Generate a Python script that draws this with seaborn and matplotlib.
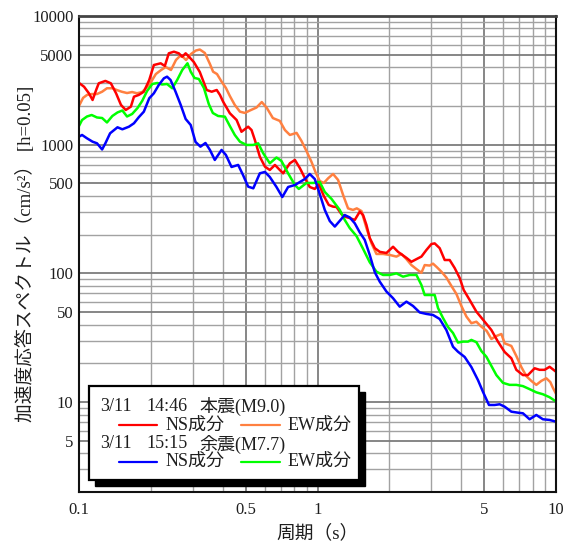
import matplotlib
matplotlib.use("Agg")
import matplotlib.pyplot as plt
from matplotlib.ticker import FixedLocator, FixedFormatter, NullFormatter
from matplotlib.patches import Rectangle
from matplotlib.lines import Line2D
import pandas as pd
import seaborn as sns

# --- acceleration response spectra, h = 0.05 ---------------------------------
# 3/11 14:46 main shock (M9.0), NS component
main_ns_period = [0.100, 0.105, 0.110, 0.114, 0.118, 0.121, 0.129, 0.136, 0.143, 0.150,
                  0.157, 0.165, 0.170, 0.178, 0.187, 0.197, 0.206, 0.220, 0.229, 0.238,
                  0.250, 0.262, 0.271, 0.280, 0.289, 0.303, 0.321, 0.343, 0.360, 0.378,
                  0.390, 0.402, 0.429, 0.458, 0.480, 0.512, 0.529, 0.546, 0.573, 0.602,
                  0.631, 0.663, 0.695, 0.718, 0.766, 0.804, 0.843, 0.885, 0.928, 0.974,
                  1.013, 1.063, 1.115, 1.162, 1.201, 1.260, 1.301, 1.365, 1.433, 1.504,
                  1.553, 1.604, 1.656, 1.739, 1.824, 1.945, 2.074, 2.176, 2.360, 2.476,
                  2.599, 2.727, 2.862, 3.003, 3.100, 3.253, 3.414, 3.583, 3.760, 3.946,
                  4.102, 4.345, 4.637, 5.022, 5.358, 5.708, 6.091, 6.497, 6.818, 7.266,
                  7.625, 8.136, 8.537, 8.960, 9.402, 10.0]
main_ns_sa = [3020, 2820, 2510, 2225, 2660, 3000, 3130, 3000, 2510, 2035,
              1860, 1975, 2360, 2435, 2580, 3180, 4160, 4290, 4090, 5130,
              5280, 5130, 4830, 5130, 4830, 4390, 3670, 2660, 2580, 2660,
              2435, 2160, 1755, 1555, 1260, 1380, 1300, 1090, 807, 675,
              636, 696, 636, 599, 717, 761, 659, 551, 469, 453,
              495, 399, 340, 330, 328, 289, 276, 269, 260, 302,
              284, 238, 188, 157, 147, 144, 161, 147, 132, 123,
              129, 135, 152, 169, 171, 157, 127, 127, 110, 92.1,
              74.3, 62.1, 50.4, 42.1, 36.3, 29.5, 24.5, 21.9, 17.8, 16.2,
              16.2, 18.3, 17.8, 17.8, 18.8, 17.2]

# 3/11 14:46 main shock (M9.0), EW component
main_ew_period = [0.100, 0.104, 0.108, 0.113, 0.119, 0.125, 0.131, 0.138, 0.144, 0.151,
                  0.159, 0.167, 0.175, 0.184, 0.193, 0.198, 0.210, 0.221, 0.231, 0.243,
                  0.255, 0.265, 0.273, 0.281, 0.295, 0.309, 0.321, 0.337, 0.354, 0.365,
                  0.379, 0.397, 0.413, 0.429, 0.450, 0.473, 0.496, 0.521, 0.555, 0.584,
                  0.613, 0.650, 0.695, 0.730, 0.766, 0.817, 0.857, 0.899, 0.944, 0.984,
                  1.022, 1.063, 1.108, 1.162, 1.220, 1.280, 1.343, 1.409, 1.461, 1.529,
                  1.604, 1.684, 1.767, 1.883, 2.009, 2.143, 2.248, 2.360, 2.476, 2.599,
                  2.727, 2.815, 2.954, 3.050, 3.161, 3.308, 3.470, 3.643, 3.823, 4.011,
                  4.210, 4.418, 4.637, 4.866, 5.120, 5.358, 5.623, 5.902, 6.091, 6.497,
                  6.818, 7.157, 7.510, 7.880, 8.270, 8.678, 9.108, 9.465, 9.705, 10.0]
main_ew_sa = [2000, 2310, 2435, 2475, 2475, 2580, 2745, 2745, 2660, 2580,
              2520, 2565, 2510, 2565, 2810, 2960, 3540, 3805, 4015, 3805,
              4550, 4890, 4800, 4550, 5070, 5390, 5490, 5160, 4235, 3690,
              3540, 3070, 2760, 2390, 2035, 1805, 1765, 1845, 1945, 2145,
              1930, 1610, 1530, 1300, 1190, 1235, 1068, 893, 734, 603,
              522, 504, 548, 592, 532, 407, 320, 311, 320, 305,
              225, 171, 141.5, 141.5, 139, 135, 141.5, 129, 116, 108,
              101, 116, 115, 119, 112, 103, 92.9, 79.8, 69.2, 55.8,
              46.2, 41.0, 42.1, 38.5, 35.7, 30.9, 32.6, 33.8, 28.6, 27.3,
              22.8, 18.7, 15.9, 14.6, 13.6, 14.6, 15.3, 14.3, 12.9, 11.6]

# 3/11 15:15 aftershock (M7.7), NS component
after_ns_period = [0.100, 0.103, 0.108, 0.114, 0.119, 0.125, 0.129, 0.135, 0.145, 0.152,
                   0.162, 0.170, 0.178, 0.187, 0.197, 0.206, 0.216, 0.227, 0.234, 0.242,
                   0.254, 0.267, 0.280, 0.294, 0.308, 0.323, 0.339, 0.354, 0.371, 0.396,
                   0.413, 0.436, 0.465, 0.487, 0.512, 0.538, 0.573, 0.602, 0.631, 0.673,
                   0.712, 0.753, 0.804, 0.885, 0.928, 0.974, 1.022, 1.073, 1.126, 1.182,
                   1.260, 1.301, 1.365, 1.433, 1.504, 1.578, 1.656, 1.739, 1.824, 1.945,
                   2.074, 2.212, 2.360, 2.515, 2.683, 2.862, 3.050, 3.253, 3.470, 3.700,
                   3.882, 4.141, 4.418, 4.709, 4.941, 5.236, 5.531, 5.804, 6.091, 6.497,
                   6.923, 7.266, 7.750, 8.270, 8.811, 9.402, 10.0]
after_ns_sa = [1154, 1190, 1121, 1055, 1025, 918, 1025, 1226, 1365, 1317,
               1380, 1467, 1633, 1805, 2294, 2508, 2910, 3281, 3377, 3183,
               2581, 2035, 1584, 1423, 1050, 965, 1031, 910, 761, 910,
               832, 671, 696, 582, 472, 458, 599, 614, 561, 469,
               392, 469, 486, 541, 592, 541, 414, 311, 255, 231,
               265, 284, 272, 245, 208, 182, 139, 102, 86.2, 72.3,
               64.1, 55.1, 60.3, 55.8, 49.7, 48.4, 47.5, 44.2, 36.3, 26.9,
               24.6, 22.4, 18.7, 14.8, 12.0, 9.49, 9.49, 9.61, 9.21, 8.42,
               8.27, 8.18, 7.35, 7.94, 7.35, 7.26, 7.04]

# 3/11 15:15 aftershock (M7.7), EW component
after_ew_period = [0.100, 0.103, 0.108, 0.113, 0.119, 0.125, 0.131, 0.138, 0.145, 0.152,
                   0.159, 0.167, 0.176, 0.184, 0.193, 0.203, 0.213, 0.223, 0.234, 0.246,
                   0.258, 0.271, 0.285, 0.294, 0.305, 0.318, 0.334, 0.350, 0.364, 0.383,
                   0.409, 0.429, 0.450, 0.473, 0.504, 0.538, 0.564, 0.592, 0.631, 0.673,
                   0.706, 0.753, 0.804, 0.835, 0.899, 0.959, 1.022, 1.073, 1.145, 1.240,
                   1.301, 1.365, 1.457, 1.553, 1.656, 1.767, 1.883, 2.009, 2.143, 2.284,
                   2.436, 2.599, 2.727, 2.815, 2.954, 3.100, 3.201, 3.359, 3.525, 3.700,
                   3.882, 4.074, 4.276, 4.418, 4.637, 4.866, 5.105, 5.358, 5.623, 5.992,
                   6.392, 6.818, 7.266, 7.750, 8.270, 8.811, 9.402, 10.0]
after_ew_sa = [1397, 1555, 1656, 1701, 1627, 1612, 1488, 1671, 1780, 1844,
               1656, 1732, 1928, 2186, 2614, 2962, 3016, 2936, 2962, 2744,
               3183, 3805, 4291, 3692, 3299, 3240, 2758, 2071, 1763, 1671,
               1651, 1397, 1190, 1055, 995, 995, 1025, 858, 717, 795,
               747, 599, 486, 453, 504, 504, 513, 429, 379, 311,
               260, 225, 195, 155, 122, 103, 97.2, 97.2, 100, 94.3,
               97.2, 97.2, 81.2, 67.9, 67.9, 67.9, 53.8, 45.0, 38.3, 34.4,
               29.0, 29.5, 29.5, 30.4, 29.2, 24.9, 22.5, 19.1, 16.2, 14.1,
               13.6, 13.6, 13.3, 12.6, 11.9, 11.5, 10.9, 10.1]

series_names = ["main_ew", "main_ns", "after_ew", "after_ns"]
series_colors = {"main_ns": "#ff0000", "main_ew": "#ff8040",
                 "after_ns": "#0000ff", "after_ew": "#00ff00"}

x_tick_values = [0.1, 0.5, 1, 5, 10]
x_tick_labels = ["0.1", "0.5", "1", "5", "10"]
y_tick_values = [5, 10, 50, 100, 500, 1000, 5000, 10000]
y_tick_labels = ["5", "10", "50", "100", "500", "1000", "5000", "10000"]

legend_main_title = ["3/11", "14:46", "本震(M9.0)"]
legend_after_title = ["3/11", "15:15", "余震(M7.7)"]
label_ns = "NS成分"
label_ew = "EW成分"
x_label = "周期（s）"
y_label = "加速度応答スペクトル（cm/s²） [h=0.05]"

# --- styling -----------------------------------------------------------------
sns.set_style("white")
plt.rcParams["font.family"] = ["Liberation Serif", "Noto Sans CJK JP"]
plt.rcParams["axes.unicode_minus"] = False
TEXT = "#1e1e1e"

df = pd.concat([
    pd.DataFrame({"period": main_ns_period, "sa": main_ns_sa, "series": "main_ns"}),
    pd.DataFrame({"period": main_ew_period, "sa": main_ew_sa, "series": "main_ew"}),
    pd.DataFrame({"period": after_ns_period, "sa": after_ns_sa, "series": "after_ns"}),
    pd.DataFrame({"period": after_ew_period, "sa": after_ew_sa, "series": "after_ew"}),
], ignore_index=True)

W, H = 572, 544
fig = plt.figure(figsize=(W / 100, H / 100), dpi=100)
ax = fig.add_axes([79 / W, 52 / H, 477 / W, 476 / H])

sns.lineplot(data=df, x="period", y="sa", hue="series", hue_order=series_names,
             palette=series_colors, estimator=None, sort=False, linewidth=1.8,
             legend=False, ax=ax)

ax.set_xscale("log")
ax.set_yscale("log")
ax.set_xlim(0.1, 10)
ax.set_ylim(2, 10000)

# ticks and grid
ax.xaxis.set_major_locator(FixedLocator(x_tick_values))
ax.xaxis.set_major_formatter(FixedFormatter(x_tick_labels))
ax.xaxis.set_minor_locator(FixedLocator([m * 10.0 ** e for e in (-1, 0) for m in (2, 3, 4, 6, 7, 8, 9)]))
ax.xaxis.set_minor_formatter(NullFormatter())
ax.yaxis.set_major_locator(FixedLocator(y_tick_values))
ax.yaxis.set_major_formatter(FixedFormatter(y_tick_labels))
ax.yaxis.set_minor_locator(FixedLocator([m * 10.0 ** e for e in range(0, 4) for m in (2, 3, 4, 6, 7, 8, 9)]))
ax.yaxis.set_minor_formatter(NullFormatter())

ax.tick_params(which="both", length=0, labelsize=12, colors=TEXT)
ax.tick_params(axis="x", which="major", pad=7)
ax.tick_params(axis="y", which="major", pad=4)
ax.grid(which="major", color="#7d7d7d", linewidth=1.3)
ax.grid(which="minor", color="#a2a2a2", linewidth=1.0)
ax.set_axisbelow(True)

for side in ("left", "bottom", "right"):
    ax.spines[side].set_color("#111111")
    ax.spines[side].set_linewidth(1.5)
ax.spines["top"].set_color("#444444")
ax.spines["top"].set_linewidth(2.0)

ax.set_xlabel(x_label, fontsize=13.5, color=TEXT, va="center")
ax.xaxis.set_label_coords(0.5, -0.086)
ax.set_ylabel(y_label, fontsize=13.5, color=TEXT, va="center")
ax.yaxis.set_label_coords(-0.113, 0.5)

# legend panel with drop shadow, in axes fractions
def px_x(p):
    return (p - 79) / 477

def px_y(p):
    return (492 - p) / 476

bx0, bx1, by0, by1 = px_x(89.5), px_x(359), px_y(480), px_y(386)
shadow = Rectangle((bx0 + 6 / 477, by0 - 6 / 476), bx1 - bx0, by1 - by0,
                   transform=ax.transAxes, facecolor="black", edgecolor="black",
                   zorder=10, clip_on=False)
panel = Rectangle((bx0, by0), bx1 - bx0, by1 - by0, transform=ax.transAxes,
                  facecolor="white", edgecolor="black", linewidth=1.6,
                  zorder=11, clip_on=False)
ax.add_patch(shadow)
ax.add_patch(panel)

LEG_FS = 13
rows = [
    (406.7, legend_main_title, None),
    (425.0, None, ("main_ns", "main_ew")),
    (444.0, legend_after_title, None),
    (461.7, None, ("after_ns", "after_ew")),
]
for ypix, title, pair in rows:
    yy = px_y(ypix)
    if title is not None:
        for piece, xs in zip(title, (100, 146.5, 199)):
            ax.text(px_x(xs), yy, piece, transform=ax.transAxes, fontsize=LEG_FS,
                    color=TEXT, va="center", ha="left", zorder=12)
    else:
        for name, (lx0, lx1, tx), lab in zip(pair, [(119, 157, 165.5), (240.5, 279.5, 287.5)],
                                             [label_ns, label_ew]):
            ax.add_line(Line2D([px_x(lx0), px_x(lx1)], [yy, yy], transform=ax.transAxes,
                               color=series_colors[name], linewidth=1.6, zorder=12))
            ax.text(px_x(tx), yy, lab, transform=ax.transAxes, fontsize=LEG_FS,
                    color=TEXT, va="center", ha="left", zorder=12)

fig.savefig("out.png", dpi=100)
